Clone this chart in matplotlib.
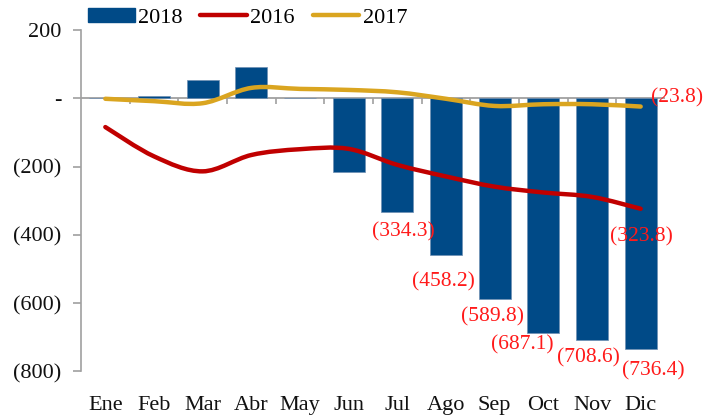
import matplotlib
matplotlib.use("Agg")
import matplotlib.pyplot as plt
import numpy as np
from matplotlib.path import Path
from matplotlib.patches import PathPatch, Patch
from matplotlib.lines import Line2D

months = ["Ene", "Feb", "Mar", "Abr", "May", "Jun", "Jul", "Ago", "Sep", "Oct", "Nov", "Dic"]
s2018 = [0.0, 6.0, 54.0, 93.0, 2.0, -215.0, -334.3, -458.2, -589.8, -687.1, -708.6, -736.4]
s2016 = [-84.0, -170.0, -214.0, -166.0, -149.0, -148.0, -195.0, -229.0, -259.0, -276.0, -289.0, -323.8]
s2017 = [-1.0, -8.0, -14.0, 31.0, 28.0, 25.0, 18.0, -1.0, -22.0, -17.0, -17.0, -23.8]
yticks = [200, 0, -200, -400, -600, -800]

BLUE = "#004A87"
RED = "#C00000"
GOLD = "#DAA520"
LAB = "#FF1A1A"
GRAY = "#A0A0A0"
FONT = "Liberation Serif"

plt.rcParams["font.family"] = [FONT, "DejaVu Serif"]

fig = plt.figure(figsize=(7.04, 4.15), dpi=100)
ax = fig.add_axes([81 / 704, 1 - 371 / 415, 584 / 704, (371 - 30.3) / 415])

x = np.arange(len(months))
ax.axhline(0, color=GRAY, lw=1.3, zorder=1)
# category boundary ticks hanging below the zero line
ax.vlines(np.arange(0.5, len(months) - 0.5, 1.0), -15, 0, colors=GRAY, lw=1.2, zorder=1)
ax.bar(x, s2018, width=0.66, color=BLUE, edgecolor="#6f8fb3", linewidth=0.5, zorder=2)


def smooth_path(xs, ys):
    pts = np.column_stack([xs, ys]).astype(float)
    n = len(pts)
    verts = [pts[0]]
    codes = [Path.MOVETO]
    for i in range(n - 1):
        p0 = pts[i - 1] if i > 0 else pts[i]
        p1 = pts[i]
        p2 = pts[i + 1]
        p3 = pts[i + 2] if i + 2 < n else pts[i + 1]
        c1 = p1 + (p2 - p0) / 6.0
        c2 = p2 - (p3 - p1) / 6.0
        verts += [c1, c2, p2]
        codes += [Path.CURVE4] * 3
    return Path(verts, codes)


for ys, col in [(s2016, RED), (s2017, GOLD)]:
    pp = PathPatch(smooth_path(x, ys), facecolor="none", edgecolor=col, lw=3.2,
                   capstyle="round", joinstyle="round", zorder=3)
    ax.add_patch(pp)

ax.set_xlim(-0.5, 11.5)
ax.set_ylim(-800, 200)

# y axis
ax.set_yticks(yticks)
def fmt(v):
    if v == 0:
        return "-"
    if v < 0:
        return "({:,.0f})".format(-v)
    return "{:,.0f}".format(v)
ax.set_yticklabels([fmt(v) for v in yticks], fontsize=16, family=FONT, color="#111111")
ax.tick_params(axis="y", direction="out", length=6, width=1.2, color=GRAY, pad=8)

# x axis labels at bottom, no ticks
ax.set_xticks(x)
ax.set_xticklabels(months, fontsize=16, family=FONT, color="#111111")
ax.tick_params(axis="x", length=0, pad=18)

for s in ["top", "right", "bottom"]:
    ax.spines[s].set_visible(False)
ax.spines["left"].set_color(GRAY)
ax.spines["left"].set_linewidth(1.2)

# bar data labels (Jul..Dic)
offsets = [(6, -20), (-3, -27), (-2, -17), (-21, -12), (-4, -18), (13, -22)]
for k, (dx, dy) in zip(range(6, 12), offsets):
    ax.annotate("({:.1f})".format(-s2018[k]), (x[k], s2018[k]), xytext=(dx * 0.72, dy * 0.72),
                textcoords="offset points", ha="center", va="center", fontsize=15.5,
                family=FONT, color=LAB, zorder=4)

ax.annotate("({:.1f})".format(-s2016[-1]), (x[-1], s2016[-1]), xytext=(1 * 0.72, -28 * 0.72),
            textcoords="offset points", ha="center", va="center", fontsize=15.5, family=FONT,
            color=LAB, zorder=4)
ax.annotate("({:.1f})".format(-s2017[-1]), (x[-1], s2017[-1]), xytext=(36 * 0.72, 9 * 0.72),
            textcoords="offset points", ha="center", va="center", fontsize=15.5, family=FONT,
            color=LAB, zorder=4)

handles = [Patch(facecolor=BLUE, edgecolor=BLUE),
           Line2D([], [], color=RED, lw=3.2, solid_capstyle="round"),
           Line2D([], [], color=GOLD, lw=3.2, solid_capstyle="round")]
leg = fig.legend(handles, ["2018", "2016", "2017"], loc="center left",
                 bbox_to_anchor=(88 / 704, 1 - 18 / 415), ncol=3, frameon=False,
                 prop={"family": FONT, "size": 16}, handlelength=2.1, handleheight=0.55,
                 handletextpad=0.15, columnspacing=0.8, borderpad=0, borderaxespad=0)

fig.savefig("out.png", dpi=100)
